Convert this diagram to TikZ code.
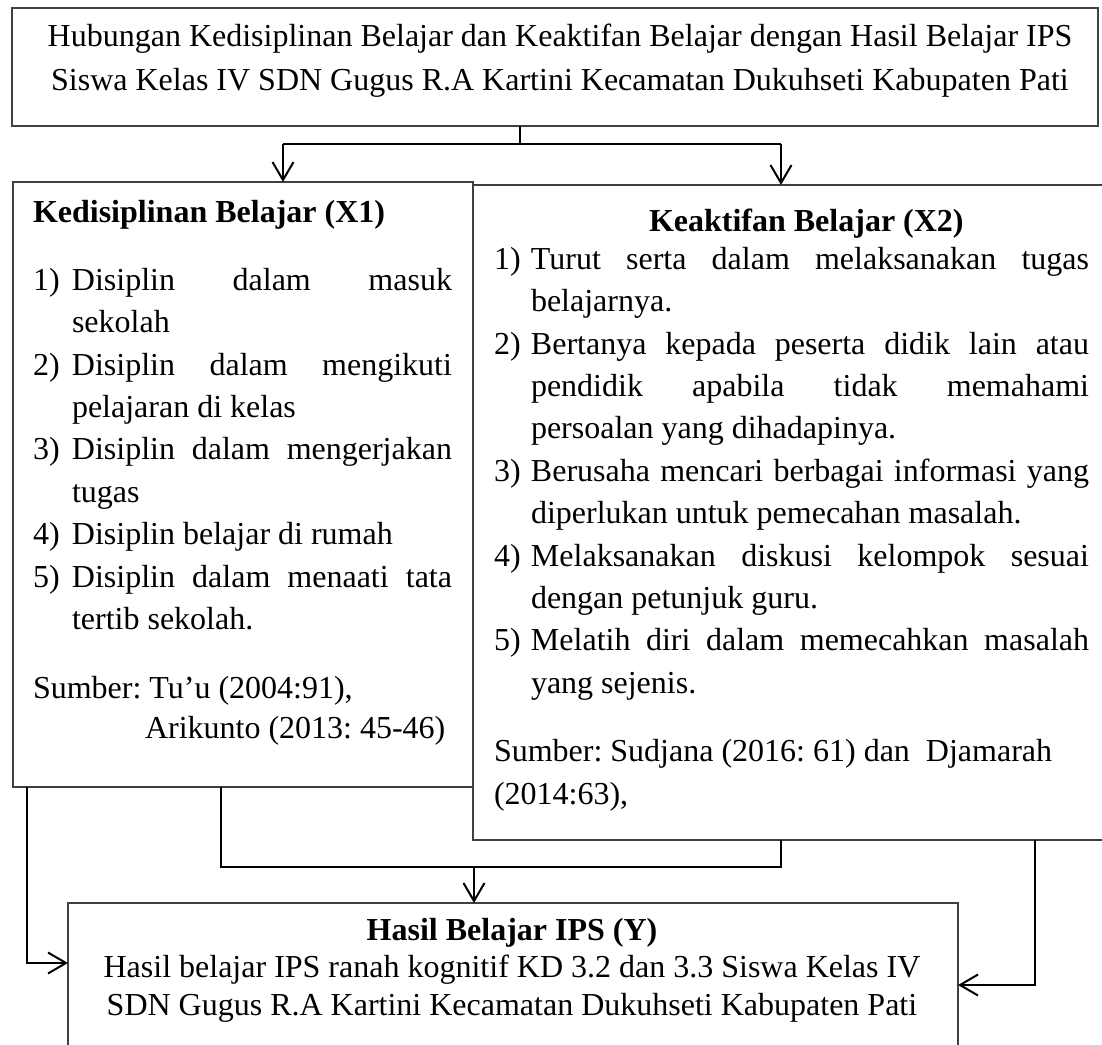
\documentclass[tikz,border=0pt]{standalone}
\usepackage{fontspec}
\setmainfont{Liberation Serif}
\usetikzlibrary{arrows.meta,calc}
\newlength\itmw
\newcommand\itm[1]{\hangindent=\itmw\hangafter=1\makebox[\itmw][l]{#1}}
\tikzset{
  box/.style={draw=black!75, line width=0.7pt, rectangle, inner sep=0pt, outer sep=0pt, anchor=north west},
  conn/.style={draw=black, line width=1.05pt, line join=miter},
  arr/.style={conn, -{Straight Barb[length=9pt,width=10.5pt,line width=1pt]}},
  txt/.style={inner sep=0pt, outer sep=0pt, align=justify},
}
\begin{document}
\frenchspacing
\begin{tikzpicture}[x=0.5pt,y=-0.5pt]
\useasboundingbox (0,0) rectangle (1102,1044);
% boxes
\node[box, minimum width=543pt, minimum height=59pt] (top) at (12,8) {};
\node[box, minimum width=315.5pt, minimum height=327.5pt] (x2) at (473,185) {};
\node[box, minimum width=230pt, minimum height=302.5pt] (x1) at (13,182) {};
\node[box, minimum width=445pt, minimum height=80pt] (y) at (68,903) {};
% texts
\node[txt, align=center, anchor=north, font=\fontsize{16}{21.5}\selectfont\frenchspacing] (toptxt) at (560,16.9)
  {\strut Hubungan Kedisiplinan Belajar dan Keaktifan Belajar dengan Hasil Belajar IPS\\
   \strut Siswa Kelas IV SDN Gugus R.A Kartini Kecamatan Dukuhseti Kabupaten Pati};
\node[txt, text width=209.5pt, anchor=north west, font=\fontsize{16}{21.2}\selectfont\frenchspacing] (x1txt) at (33,193.3) {%
  \parindent=0pt\setlength\itmw{19.5pt}\hyphenpenalty=10000 \exhyphenpenalty=10000
  \strut\textbf{Kedisiplinan Belajar (X1)}\par
  \vspace{12.5pt}
  \itm{1)}Disiplin dalam masuk\linebreak sekolah\par
  \itm{2)}Disiplin dalam mengikuti\linebreak pelajaran di kelas\par
  \itm{3)}Disiplin dalam mengerjakan\linebreak tugas\par
  \itm{4)}Disiplin belajar di rumah\par
  \itm{5)}Disiplin dalam menaati tata\linebreak tertib sekolah.\par
  \vspace{13.5pt}
  Sumber: Tu’u (2004:91),\par
  \vspace{-1.5pt}
  \hspace*{56pt}Arikunto (2013: 45-46)\par};
\node[txt, text width=297.5pt, anchor=north west, font=\fontsize{16}{21.2}\selectfont\frenchspacing] (x2txt) at (494,202.3) {%
  \parindent=0pt\setlength\itmw{18.5pt}\hyphenpenalty=10000 \exhyphenpenalty=10000
  \strut\hspace*{77.5pt}\textbf{Keaktifan Belajar (X2)}\par
  \vspace{-2.5pt}
  \itm{1)}Turut serta dalam melaksanakan tugas\linebreak belajarnya.\par
  \itm{2)}Bertanya kepada peserta didik lain atau\linebreak pendidik apabila tidak memahami\linebreak persoalan yang dihadapinya.\par
  \itm{3)}Berusaha mencari berbagai informasi yang\linebreak diperlukan untuk pemecahan masalah.\par
  \itm{4)}Melaksanakan diskusi kelompok sesuai\linebreak dengan petunjuk guru.\par
  \itm{5)}Melatih diri dalam memecahkan masalah\linebreak yang sejenis.\par
  \vspace{13pt}
  Sumber: Sudjana (2016: 61) dan\ \ Djamarah\\
  (2014:63),\par};
\node[txt, align=center, anchor=north, font=\fontsize{16}{18.75}\selectfont\frenchspacing] (ytxt) at (512,913.75)
  {\strut\textbf{Hasil Belajar IPS (Y)}\\
   \strut Hasil belajar IPS ranah kognitif KD 3.2 dan 3.3 Siswa Kelas IV\\
   \strut SDN Gugus R.A Kartini Kecamatan Dukuhseti Kabupaten Pati};
% junctions
\coordinate (jt) at (520,144);
\coordinate (jl) at (283,144);
\coordinate (jr) at (781,144);
\coordinate (bl) at (221,867);
\coordinate (br) at (781,867);
\coordinate (bm) at (474,867);
\coordinate (lo) at (27,963);
\coordinate (ro) at (1035,985);
% connectors
\draw[conn] (jt |- top.south) -- (jt);
\draw[conn] (jl) -- (jr);
\draw[arr] (jl) -- (jl |- x1.north);
\draw[arr] (jr) -- (jr |- x2.north);
\draw[conn] (bl |- x1.south) -- (bl) -- (br) -- (br |- x2.south);
\draw[arr] (bm) -- (bm |- y.north);
\draw[arr] (lo |- x1.south) -- (lo) -- (lo -| y.west);
\draw[arr] (ro |- x2.south) -- (ro) -- (ro -| y.east);
\end{tikzpicture}
\end{document}
